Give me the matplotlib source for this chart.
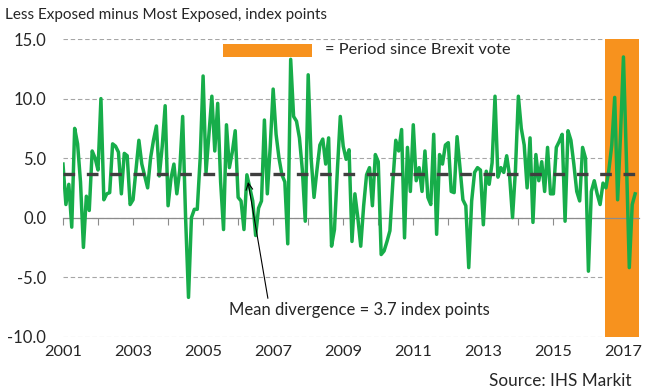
import numpy as np
import matplotlib.pyplot as plt
from matplotlib.patches import Rectangle

plt.rcParams['font.family'] = ['Lato', 'DejaVu Sans']
plt.rcParams['axes.unicode_minus'] = False

# Less exposed minus most exposed, index points, monthly Jan 2001 - May 2017
divergence = [
    4.5, 1.1, 2.8, -0.8, 7.5, 6.2, 3.0, -2.5, 1.8, 0.6, 5.6, 5.0,      # 2001
    4.0, 10.0, 1.5, 2.0, 2.1, 6.2, 6.0, 5.5, 2.0, 5.4, 5.2, 1.1,       # 2002
    1.5, 4.0, 6.5, 4.5, 3.5, 2.5, 5.0, 6.5, 7.7, 3.5, 6.0, 9.4,        # 2003
    1.0, 3.3, 4.5, 2.0, 4.0, 8.5, 0.0, -6.7, 0.0, 0.7, 0.7, 5.0,       # 2004
    11.9, 3.8, 7.0, 10.2, 5.6, 9.6, 3.0, -1.0, 7.8, 4.2, 5.5, 7.3,     # 2005
    1.7, 1.4, -1.0, 3.6, 2.5, 1.4, -1.5, 0.8, 1.4, 8.2, 2.0, 6.0,      # 2006
    10.8, 7.0, 5.0, 3.6, 3.0, -2.2, 13.3, 8.5, 8.1, 6.7, 4.0, -0.3,    # 2007
    12.0, 5.0, 1.7, 4.0, 6.1, 6.6, 4.5, 6.7, -2.4, -1.0, 4.0, 8.5,     # 2008
    6.0, 4.9, 5.7, -2.0, 2.0, 0.0, -2.4, 1.0, 3.6, 4.2, 1.0, 5.3,      # 2009
    4.7, -3.1, -2.8, -2.0, -1.1, 3.0, 6.5, 5.6, 7.4, -1.7, 5.9, 2.2,   # 2010
    7.8, 3.1, 4.2, 2.2, 5.6, 1.7, 1.1, 7.0, -1.4, 5.3, 4.5, 6.1,       # 2011
    6.3, 2.2, 2.1, 6.8, 4.2, 1.5, 1.0, -4.2, 1.4, 3.8, 4.2, 4.0,       # 2012
    -0.6, 3.9, 2.8, 4.6, 10.2, 3.4, 4.2, 3.8, 5.2, 3.5, 0.0, 4.0,      # 2013
    10.2, 7.5, 6.1, 2.5, 6.7, -0.4, 5.3, 3.1, 4.7, 2.2, 5.9, 2.0,      # 2014
    2.0, 5.9, 6.4, 7.0, -0.3, 7.3, 6.5, 4.5, 2.2, 1.4, 5.9, 5.0,       # 2015
    -4.5, 2.2, 3.1, 2.0, 1.1, 2.9, 2.5, 4.0, 6.1, 10.1, 1.5, 7.0,      # 2016
    13.5, 5.0, -4.2, 1.1, 2.0,                                         # 2017
]
mean_divergence = 3.7
brexit_start = 185.6      # months since Jan 2001 (June 2016 vote)
axis_end = 197.4
years = list(range(2001, 2018))
y_ticks = [-10, -5, 0, 5, 10, 15]

green = '#17AD4A'
orange = '#F7921E'
text_col = '#262626'

months = np.arange(len(divergence))
year_pos = [(y - 2001) * 12 for y in years]
year_labels = [str(y) if (y - 2001) % 2 == 0 else '' for y in years]

fig = plt.figure(figsize=(6.46, 3.91), dpi=100)
ax = fig.add_axes([0.0975, 0.139, 0.892, 0.761])

# Brexit period shading
ax.axvspan(brexit_start, axis_end, color=orange, lw=0, zorder=1)

ax.plot(months, divergence, color=green, lw=2.5, zorder=3)
ax.plot(months, [mean_divergence] * len(months), color='#3f3f3f', lw=2.4,
        ls=(0, (3.5, 3.5)), zorder=4)

ax.set_xlim(0, axis_end)
ax.set_ylim(-10, 15)
ax.set_yticks(y_ticks)
ax.set_yticklabels(['%.1f' % v for v in y_ticks])
ax.grid(axis='y', ls=(0, (4, 2.5)), lw=0.8, color='#a6a6a6', zorder=0)
ax.set_axisbelow(True)

for s in ['left', 'right', 'top']:
    ax.spines[s].set_visible(False)
ax.spines['bottom'].set_position(('data', 0))
ax.spines['bottom'].set_color('#8c8c8c')
ax.spines['bottom'].set_linewidth(0.9)
ax.spines['bottom'].set_zorder(2)
ax.set_xticks(year_pos)
ax.tick_params(axis='x', direction='out', length=5, color='#8c8c8c',
               labelbottom=False)
ax.tick_params(axis='y', length=0, pad=12, labelsize=12, labelcolor=text_col)

# year labels along the bottom edge
sec = ax.secondary_xaxis('bottom')
sec.set_xticks(year_pos, labels=year_labels)
sec.tick_params(length=0, pad=6, labelsize=11.8, labelcolor=text_col)
sec.spines['bottom'].set_visible(False)

# key for the shading
ax.add_patch(Rectangle((0.278, 0.94), 0.154, 0.044, transform=ax.transAxes,
                       color=orange, lw=0, zorder=5))
ax.text(0.455, 0.962, '= Period since Brexit vote', transform=ax.transAxes,
        ha='left', va='center', fontsize=11.8, color=text_col)

ax.annotate('Mean divergence = 3.7 index points', xy=(63.4, 3.0),
            xytext=(101.7, -7.8), ha='center', va='center', fontsize=12,
            color=text_col,
            arrowprops=dict(arrowstyle='->', color='black', lw=0.8,
                            relpos=(0.15, 1.0), shrinkA=1, shrinkB=0))

fig.text(0.008, 0.962, 'Less Exposed minus Most Exposed, index points',
         ha='left', va='center', fontsize=11, color=text_col)
fig.text(0.978, 0.026, 'Source: IHS Markit', ha='right', va='center',
         fontsize=12.3, color=text_col)

fig.savefig('out.png', dpi=100)
